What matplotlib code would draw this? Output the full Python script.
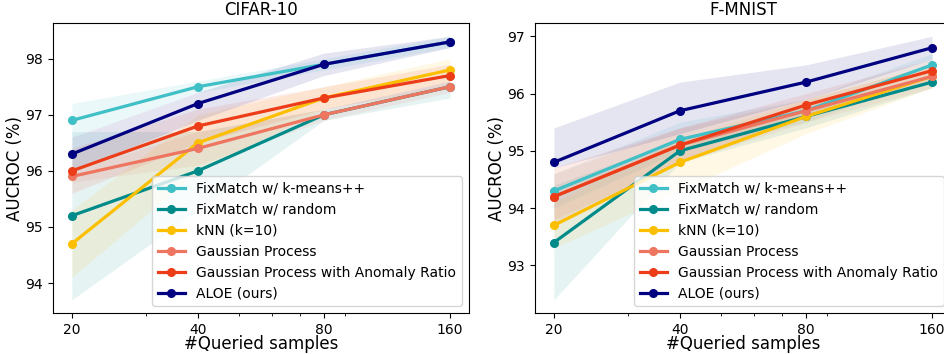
import matplotlib
matplotlib.use("Agg")
import matplotlib.pyplot as plt
from matplotlib.ticker import NullFormatter, FixedLocator, FixedFormatter

# ---------------- data ----------------
queried = [20, 40, 80, 160]
tick_labels = ["20", "40", "80", "160"]
method_names = ["FixMatch w/ k-means++", "FixMatch w/ random", "kNN (k=10)",
                "Gaussian Process", "Gaussian Process with Anomaly Ratio", "ALOE (ours)"]
colors = ["#3fbfc6", "#008b8a", "#fbbf00", "#ee7560", "#ec3c18", "#000080"]
titles = ["CIFAR-10", "F-MNIST"]

# CIFAR-10
cifar_kmeans = [96.9, 97.5, 97.9, 98.3]
cifar_kmeans_lo = [96.6, 97.4, 97.8, 98.2]
cifar_kmeans_hi = [97.2, 97.6, 98.0, 98.4]
cifar_random = [95.2, 96.0, 97.0, 97.5]
cifar_random_lo = [93.7, 95.3, 96.9, 97.3]
cifar_random_hi = [96.7, 96.7, 97.1, 97.6]
cifar_knn = [94.7, 96.5, 97.3, 97.8]
cifar_knn_lo = [94.1, 96.0, 97.1, 97.6]
cifar_knn_hi = [95.3, 97.0, 97.5, 98.0]
cifar_gp = [95.9, 96.4, 97.0, 97.5]
cifar_gp_lo = [95.8, 96.1, 96.9, 97.4]
cifar_gp_hi = [96.0, 96.7, 97.1, 97.6]
cifar_gpar = [96.0, 96.8, 97.3, 97.7]
cifar_gpar_lo = [95.6, 96.5, 97.1, 97.5]
cifar_gpar_hi = [96.4, 97.1, 97.5, 97.9]
cifar_aloe = [96.3, 97.2, 97.9, 98.3]
cifar_aloe_lo = [96.0, 96.9, 97.7, 98.2]
cifar_aloe_hi = [96.6, 97.4, 98.1, 98.4]

# F-MNIST
fm_kmeans = [94.3, 95.2, 95.7, 96.5]
fm_kmeans_lo = [94.0, 95.0, 95.5, 96.3]
fm_kmeans_hi = [94.6, 95.5, 95.9, 96.7]
fm_random = [93.4, 95.0, 95.6, 96.2]
fm_random_lo = [92.4, 94.8, 95.4, 96.1]
fm_random_hi = [94.4, 95.2, 95.8, 96.3]
fm_knn = [93.7, 94.8, 95.6, 96.3]
fm_knn_lo = [93.3, 94.3, 95.3, 96.1]
fm_knn_hi = [94.1, 95.2, 95.9, 96.5]
fm_gp = [94.2, 95.1, 95.7, 96.3]
fm_gp_lo = [93.8, 94.8, 95.5, 96.1]
fm_gp_hi = [94.6, 95.4, 95.9, 96.5]
fm_gpar = [94.2, 95.1, 95.8, 96.4]
fm_gpar_lo = [93.7, 94.8, 95.6, 96.2]
fm_gpar_hi = [94.7, 95.4, 96.0, 96.6]
fm_aloe = [94.8, 95.7, 96.2, 96.8]
fm_aloe_lo = [94.7, 95.3, 95.9, 96.6]
fm_aloe_hi = [95.4, 96.2, 96.5, 97.0]

panels = [
    [(cifar_kmeans, cifar_kmeans_lo, cifar_kmeans_hi),
     (cifar_random, cifar_random_lo, cifar_random_hi),
     (cifar_knn, cifar_knn_lo, cifar_knn_hi),
     (cifar_gp, cifar_gp_lo, cifar_gp_hi),
     (cifar_gpar, cifar_gpar_lo, cifar_gpar_hi),
     (cifar_aloe, cifar_aloe_lo, cifar_aloe_hi)],
    [(fm_kmeans, fm_kmeans_lo, fm_kmeans_hi),
     (fm_random, fm_random_lo, fm_random_hi),
     (fm_knn, fm_knn_lo, fm_knn_hi),
     (fm_gp, fm_gp_lo, fm_gp_hi),
     (fm_gpar, fm_gpar_lo, fm_gpar_hi),
     (fm_aloe, fm_aloe_lo, fm_aloe_hi)],
]

plt.rcParams['font.family'] = ['DejaVu Sans']
fig = plt.figure(figsize=(9.44, 3.54), dpi=100)
ax_rects = [[0.0561, 0.1158, 0.4407, 0.819], [0.5667, 0.1158, 0.4407, 0.819]]

for rect, title, series in zip(ax_rects, titles, panels):
    ax = fig.add_axes(rect)
    ax.set_xscale('log')
    for name, color, (mean, lo, hi) in zip(method_names, colors, series):
        ax.fill_between(queried, lo, hi, color=color, alpha=0.1, linewidth=0)
        ax.plot(queried, mean, marker='o', markersize=5.5, linewidth=2.3,
                color=color, label=name)
    ax.xaxis.set_major_locator(FixedLocator(queried))
    ax.xaxis.set_major_formatter(FixedFormatter(tick_labels))
    ax.xaxis.set_minor_formatter(NullFormatter())
    ax.set_title(title, fontsize=12)
    ax.set_xlabel("#Queried samples", fontsize=12, labelpad=-1)
    ax.set_ylabel("AUCROC (%)", fontsize=12, labelpad=1)
    ax.tick_params(labelsize=10)
    ax.legend(loc='lower right', fontsize=10, handlelength=2.0)

fig.savefig("out.png", dpi=100)
